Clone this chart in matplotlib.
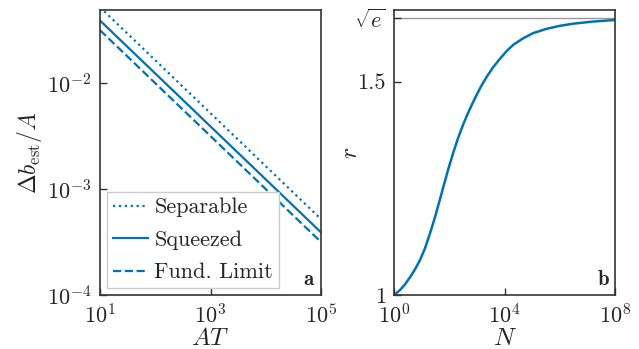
import numpy as np
import matplotlib
matplotlib.use("Agg")
import matplotlib.pyplot as plt

plt.rcParams['font.family'] = 'cmr10'
plt.rcParams['mathtext.fontset'] = 'cm'
plt.rcParams['axes.formatter.use_mathtext'] = True
plt.rcParams['text.color'] = '#262626'
plt.rcParams['axes.labelcolor'] = '#262626'
plt.rcParams['xtick.color'] = '#262626'
plt.rcParams['ytick.color'] = '#262626'

# Panel a data
AT = [1e1, 1e5]
separable = [5.2e-2, 5.2e-4]
squeezed = [3.9e-2, 3.9e-4]
fund_limit = [3.16e-2, 3.16e-4]

# Panel b data
logN = [0.0, 0.217, 0.398, 0.579, 0.760, 0.941, 1.122, 1.303, 1.484, 1.665,
        1.810, 1.966, 2.147, 2.328, 2.509, 2.690, 2.871, 3.113, 3.356, 3.595,
        3.837, 4.080, 4.318, 4.681, 5.043, 5.528, 6.009, 6.490, 7.214, 8.0]
r_vals = [1.000, 1.0117, 1.0251, 1.0415, 1.0602, 1.0820, 1.1095, 1.1446,
          1.1826, 1.2246, 1.2591, 1.2953, 1.3342, 1.3695, 1.4006, 1.4281,
          1.4534, 1.4846, 1.5118, 1.5345, 1.5539, 1.5720, 1.5865, 1.6020,
          1.6140, 1.6240, 1.6310, 1.6360, 1.6410, 1.6446]
N = [10 ** v for v in logN]

blue = '#0072B2'
spine_c = '#333333'

fig = plt.figure(figsize=(6.39, 3.49), dpi=100)
ax1 = fig.add_axes([0.1565, 0.1547, 0.3459, 0.8166])
ax2 = fig.add_axes([0.6166, 0.1547, 0.3459, 0.8166])

ax1.plot(AT, separable, ':', color=blue, lw=1.6, label='Separable')
ax1.plot(AT, squeezed, '-', color=blue, lw=1.6, label='Squeezed')
ax1.plot(AT, fund_limit, '--', color=blue, lw=1.6, label='Fund. Limit')
ax1.set_xscale('log')
ax1.set_yscale('log')
ax1.set_xlim(1e1, 1e5)
ax1.set_ylim(1e-4, 4.9e-2)
ax1.set_xticks([1e1, 1e3, 1e5])
ax1.set_yticks([1e-4, 1e-3, 1e-2])
ax1.minorticks_off()
ax1.set_xlabel(r'$AT$', fontsize=18, labelpad=0)
ax1.set_ylabel(r'$\Delta b_{\mathrm{est}}/A$', fontsize=17, labelpad=2)
leg = ax1.legend(loc='lower left', fontsize=16, handlelength=1.58, fancybox=False,
                 framealpha=1, edgecolor='#cccccc', borderaxespad=0.32,
                 borderpad=0.25, labelspacing=0.58, handletextpad=0.3)
leg.get_frame().set_linewidth(1.0)
ax1.text(0.975, 0.02, r'$\mathbf{a}$', transform=ax1.transAxes, ha='right', va='bottom', fontsize=15)

ax2.axhline(np.sqrt(np.e), color='#999999', lw=1.0, zorder=1)
ax2.plot(N, r_vals, '-', color=blue, lw=1.8, zorder=2)
ax2.set_xscale('log')
ax2.set_xlim(1e0, 1e8)
ax2.set_ylim(1.0, 1.668)
ax2.set_xticks([1e0, 1e4, 1e8])
ax2.minorticks_off()
ax2.set_yticks([1.0, 1.5, np.sqrt(np.e)])
ax2.set_yticklabels(['1', '1.5', r'$\sqrt{e}$'])
ax2.set_xlabel(r'$N$', fontsize=18, labelpad=0)
ax2.set_ylabel(r'$r$', fontsize=17)
ax2.yaxis.set_label_coords(-0.145, 0.5)
ax2.text(0.975, 0.02, r'$\mathbf{b}$', transform=ax2.transAxes, ha='right', va='bottom', fontsize=15)

for ax in (ax1, ax2):
    for s in ax.spines.values():
        s.set_color(spine_c)
        s.set_linewidth(1.2)
    ax.tick_params(direction='in', length=5, width=1.0, labelsize=16, color=spine_c, pad=6)

fig.savefig('out.png', dpi=100)
